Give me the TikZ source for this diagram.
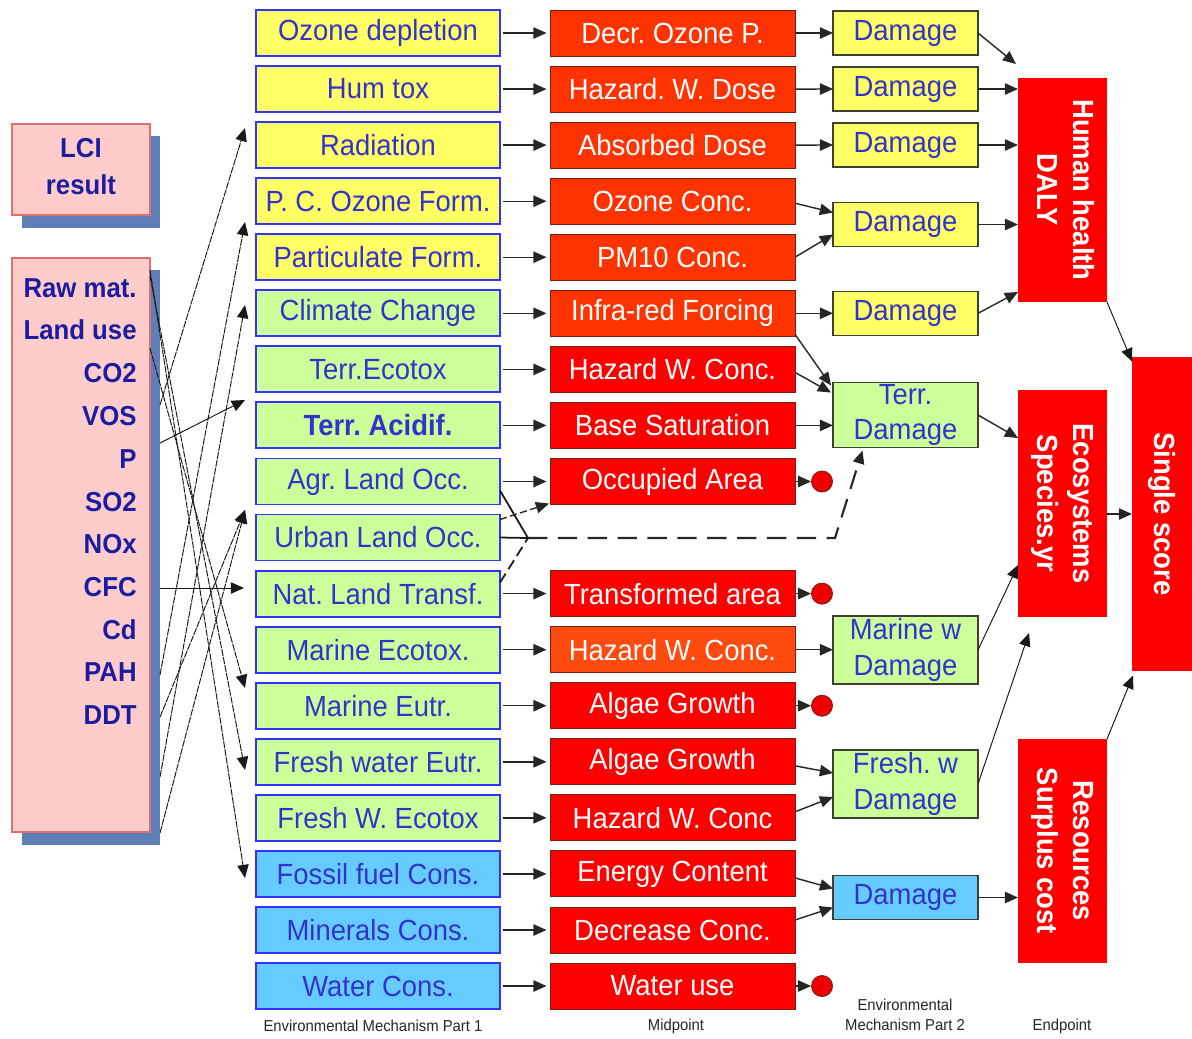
\documentclass[tikz,border=0pt]{standalone}
\usepackage{fontspec}
\usepackage{graphicx}
\setmainfont[FakeStretch=0.94]{Liberation Sans}
\usetikzlibrary{arrows.meta,calc}

\definecolor{yelfill}{HTML}{FFFF66}
\definecolor{grnfill}{HTML}{CCFF99}
\definecolor{blufill}{HTML}{66CCFF}
\definecolor{mechline}{HTML}{3333FF}
\definecolor{mechtxt}{HTML}{3333CC}
\definecolor{midorange}{HTML}{FF3300}
\definecolor{midred}{HTML}{FF0000}
\definecolor{midorangeb}{HTML}{FF4A10}
\definecolor{midline}{HTML}{7A2010}
\definecolor{endred}{HTML}{FF0000}
\definecolor{lcifill}{HTML}{FFCCCC}
\definecolor{lciline}{HTML}{E07070}
\definecolor{shadowblue}{HTML}{5F7FB8}
\definecolor{listtxt}{HTML}{1C1CA0}
\definecolor{dmgline}{HTML}{404030}
\definecolor{dotred}{HTML}{EE0000}

\newcommand{\mainsz}{\frenchspacing\fontsize{16.6}{20.4}\selectfont}
\newcommand{\listsz}{\frenchspacing\fontsize{15.6}{18}\selectfont}
\newcommand{\capsz}{\frenchspacing\fontsize{9}{11.5}\selectfont}

\begin{document}
\frenchspacing
\begin{tikzpicture}[x=0.02cm,y=-0.02cm,
  box/.style={rectangle,inner sep=0pt,outer sep=0pt,align=center},
  mech/.style={box,draw=mechline,line width=1.1pt,minimum width=4.88cm,minimum height=0.92cm,text=mechtxt,font=\mainsz},
  yelbox/.style={mech,fill=yelfill},
  grnbox/.style={mech,fill=grnfill},
  grnbold/.style={grnbox,font=\mainsz\bfseries},
  blubox/.style={mech,fill=blufill},
  mid/.style={box,draw=midline,line width=0.5pt,minimum width=4.9cm,minimum height=0.92cm,text=white,font=\mainsz},
  orgbox/.style={mid,fill=midorange},
  redbox/.style={mid,fill=midred},
  orgboxb/.style={mid,fill=midorangeb},
  dmg/.style={box,draw=dmgline,line width=0.8pt,minimum width=2.9cm,minimum height=0.88cm,text=mechtxt,font=\mainsz},
  dmgyel/.style={dmg,fill=yelfill},
  dmggrn/.style={dmg,fill=grnfill},
  dmgblu/.style={dmg,fill=blufill},
  endbox/.style={box,fill=endred,text=white,font=\mainsz\bfseries,minimum width=1.78cm},
  lcibox/.style={box,fill=lcifill,draw=lciline,line width=0.8pt,minimum width=2.76cm},
  listitem/.style={inner sep=0pt,anchor=east,text=listtxt,font=\listsz\bfseries},
  dot/.style={circle,fill=dotred,draw=midline,line width=0.5pt,minimum size=0.42cm,inner sep=0pt},
  caption/.style={inner sep=0pt,align=center,text=black!85,font=\capsz},
  arr/.style={-{Triangle[length=7.5pt,width=6.5pt]},line width=0.8pt,draw=black!85},
  thinarr/.style={-{Triangle[length=7.5pt,width=6.5pt]},line width=0.55pt,draw=black!90},
  link/.style={line width=1pt,draw=black!90},
  raydash/.style={dash pattern=on 4pt off 0.6pt}
]
\useasboundingbox (0,0) rectangle (1192,1038);

% ---------- inventory boxes with drop shadows ----------
\fill[shadowblue] (22,136) rectangle (160,228);
\node[lcibox,minimum height=1.82cm,text=listtxt,font=\listsz\bfseries] (lci) at (81,169.5)
  {\begin{tabular}{@{}c@{}}LCI\\[3pt]result\end{tabular}};
\fill[shadowblue] (22,270) rectangle (160,845);
\node[lcibox,minimum height=11.48cm] (raw) at (81,545) {};

\node[listitem] (e0)  at (137,288) {Raw mat.};
\node[listitem] (e1)  at (137,330) {Land use};
\node[listitem] (e2)  at (137,373) {CO2};
\node[listitem] (e3)  at (137,416) {VOS};
\node[listitem] (e4)  at (137,459) {P};
\node[listitem] (e5)  at (137,502) {SO2};
\node[listitem] (e6)  at (137,544) {NOx};
\node[listitem] (e7)  at (137,587) {CFC};
\node[listitem] (e8)  at (137,630) {Cd};
\node[listitem] (e9)  at (137,672) {PAH};
\node[listitem] (e10) at (137,715) {DDT};

% ---------- environmental mechanism, part 1 ----------
\node[yelbox]  (c0)  at (378,33)    {Ozone depletion};
\node[yelbox]  (c1)  at (378,89.1)  {Hum tox};
\node[yelbox]  (c2)  at (378,145.1) {Radiation};
\node[yelbox]  (c3)  at (378,201.2) {P. C. Ozone Form.};
\node[yelbox]  (c4)  at (378,257.2) {Particulate Form.};
\node[grnbox]  (c5)  at (378,313.3) {Climate Change};
\node[grnbox]  (c6)  at (378,369.4) {Terr.Ecotox};
\node[grnbold] (c7)  at (378,425.4) {Terr. Acidif.};
\node[grnbox]  (c8)  at (378,481.5) {Agr. Land Occ.};
\node[grnbox]  (c9)  at (378,537.5) {Urban Land Occ.};
\node[grnbox]  (c10) at (378,593.6) {Nat. Land Transf.};
\node[grnbox]  (c11) at (378,649.7) {Marine Ecotox.};
\node[grnbox]  (c12) at (378,705.7) {Marine Eutr.};
\node[grnbox]  (c13) at (378,761.8) {Fresh water Eutr.};
\node[grnbox]  (c14) at (378,817.8) {Fresh W. Ecotox};
\node[blubox]  (c15) at (378,873.9) {Fossil fuel Cons.};
\node[blubox]  (c16) at (378,930)   {Minerals Cons.};
\node[blubox]  (c17) at (378,986)   {Water Cons.};

% ---------- midpoints ----------
\node[orgbox]  (m0)  at (672.5,33)    {Decr. Ozone P.};
\node[orgbox]  (m1)  at (672.5,89.1)  {Hazard. W. Dose};
\node[orgbox]  (m2)  at (672.5,145.1) {Absorbed Dose};
\node[orgbox]  (m3)  at (672.5,201.2) {Ozone Conc.};
\node[orgbox]  (m4)  at (672.5,257.2) {PM10 Conc.};
\node[orgbox]  (m5)  at (672.5,313.3) {Infra-red Forcing};
\node[redbox]  (m6)  at (672.5,369.4) {Hazard W. Conc.};
\node[redbox]  (m7)  at (672.5,425.4) {Base Saturation};
\node[redbox]  (m8)  at (672.5,481.5) {Occupied Area};
\node[redbox]  (m10) at (672.5,593.6) {Transformed area};
\node[orgboxb] (m11) at (672.5,649.7) {Hazard W. Conc.};
\node[redbox]  (m12) at (672.5,705.7) {Algae Growth};
\node[redbox]  (m13) at (672.5,761.8) {Algae Growth};
\node[redbox]  (m14) at (672.5,817.8) {Hazard W. Conc};
\node[redbox]  (m15) at (672.5,873.9) {Energy Content};
\node[redbox]  (m16) at (672.5,930)   {Decrease Conc.};
\node[redbox]  (m17) at (672.5,986)   {Water use};

% end markers of midpoints without damage link
\node[dot] (o8)  at (822,481.5) {};
\node[dot] (o10) at (822,593.6) {};
\node[dot] (o12) at (822,705.7) {};
\node[dot] (o17) at (822,986)   {};

% ---------- environmental mechanism, part 2 ----------
\node[dmgyel] (d1) at (905.5,33)    {Damage};
\node[dmgyel] (d2) at (905.5,89)    {Damage};
\node[dmgyel] (d3) at (905.5,145)   {Damage};
\node[dmgyel] (d4) at (905.5,224.5) {Damage};
\node[dmgyel] (d5) at (905.5,313.3) {Damage};
\node[dmggrn,minimum height=1.3cm]  (dT) at (905.5,415) {Terr.\\Damage};
\node[dmggrn,minimum height=1.36cm] (dM) at (905.5,650) {Marine w\\Damage};
\node[dmggrn,minimum height=1.36cm] (dF) at (905.5,784) {Fresh. w\\Damage};
\node[dmgblu] (dB) at (905.5,897.5) {Damage};

% ---------- endpoints ----------
\node[endbox,minimum height=4.48cm] (hh) at (1062.5,190)
  {\rotatebox{-90}{\begin{tabular}{@{}c@{}}Human health\\DALY\end{tabular}}};
\node[endbox,minimum height=4.54cm] (eco) at (1062.5,503.5)
  {\rotatebox{-90}{\begin{tabular}{@{}c@{}}Ecosystems\\Species.yr\end{tabular}}};
\node[endbox,minimum height=4.48cm] (res) at (1062.5,851)
  {\rotatebox{-90}{\begin{tabular}{@{}c@{}}Resources\\Surplus cost\end{tabular}}};
\node[endbox,minimum width=1.2cm,minimum height=6.3cm] (ss) at (1162,514)
  {\rotatebox{-90}{Single score}};

% ---------- inventory to mechanism links ----------
\coordinate (sA) at (160,405);  \coordinate (tA) at (245,128);
\coordinate (sB) at (160,675);  \coordinate (tB) at (245,222);
\coordinate (sC) at (160,777);  \coordinate (tC) at (245,305);
\coordinate (sD) at (160,443);  \coordinate (tD) at (245,400);
\coordinate (sE) at (160,717);  \coordinate (tE) at (245,510);
\coordinate (sF) at (160,833);
\coordinate (sG) at (160,588);  \coordinate (tG) at (244,588);
\coordinate (sH) at (150,348);  \coordinate (tH) at (245,688);
\coordinate (sI) at (150,276);  \coordinate (tI) at (245,770);
\coordinate (sJ) at (150,270);  \coordinate (tJ) at (245,878);
\draw[thinarr,raydash] (sA) -- (tA);
\draw[thinarr,raydash] (sB) -- (tB);
\draw[thinarr,raydash] (sC) -- (tC);
\draw[thinarr] (sD) -- (tD);
\draw[thinarr,raydash] (sE) -- (tE);
\draw[thinarr,raydash] (sF) -- (tE);
\draw[thinarr] (sG) -- (tG);
\draw[thinarr,raydash] (sH) -- (tH);
\draw[thinarr,raydash] (sI) -- (tI);
\draw[thinarr,raydash] (sJ) -- (tJ);

% ---------- mechanism to midpoint ----------
\foreach \k in {0,1,2,3,4,5,6,7,8,10,11,12,13,14,15,16,17}
  \draw[arr,shorten <=2pt,shorten >=2pt] (c\k.east) -- (m\k.west);

% land use: occupation and transformation feed terrestrial damage
\coordinate (jn) at (528,538);
\coordinate (bend) at (835,538);
\draw[link] ($(c8.east)+(0,9)$) -- (jn);
\draw[link] (c9.east) -- (jn);
\draw[link,dash pattern=on 6pt off 3pt] ($(c10.east)+(0,-11)$) -- (jn);
\draw[arr,line width=1.2pt,dash pattern=on 11pt off 6pt] (jn) -- (bend) -- ($(dT.south)+(-43,3)$);
\draw[arr,dash pattern=on 4pt off 2pt] ($(c9.east)+(0,-18)$) -- ($(m8.south west)+(-1,-1)$);

% ---------- midpoint to damage ----------
\draw[arr] (m0.east) -- (d1.west);
\draw[arr] (m1.east) -- (d2.west);
\draw[arr] (m2.east) -- (d3.west);
\draw[arr] ($(m3.east)+(0,2)$) -- ($(d4.west)+(0,-12)$);
\draw[arr] ($(m4.east)+(0,0)$) -- ($(d4.west)+(0,10)$);
\draw[arr] (m5.east) -- (d5.west);
\draw[arr] ($(m5.east)+(0,21)$) -- ($(dT.north west)+(-2,3)$);
\draw[arr] ($(m6.east)+(0,3)$) -- ($(dT.north west)+(-2,10)$);
\draw[arr] (m7.east) -- (m7.east -| dT.west);
\draw[arr] (m8.east) -- (o8.west);
\draw[arr] (m10.east) -- (o10.west);
\draw[arr] (m11.east) -- (m11.east -| dM.west);
\draw[arr] (m12.east) -- (o12.west);
\draw[arr] ($(m13.east)+(0,4)$) -- ($(dF.west)+(0,-11)$);
\draw[arr] ($(m14.east)+(0,-6)$) -- ($(dF.west)+(0,13)$);
\draw[arr] ($(m15.east)+(0,4)$) -- ($(dB.west)+(0,-9)$);
\draw[arr] ($(m16.east)+(0,-10)$) -- ($(dB.west)+(0,10)$);
\draw[arr] (m17.east) -- (o17.west);

% ---------- damage to endpoint ----------
\coordinate (hhtop) at (1016,64);
\coordinate (ecolow) at (1029,633);
\draw[arr] (d1.east) -- (hhtop);
\draw[arr] (d2.east) -- (d2.east -| hh.west);
\draw[arr] (d3.east) -- (d3.east -| hh.west);
\draw[arr] (d4.east) -- (d4.east -| hh.west);
\draw[arr] (d5.east) -- ($(hh.south west)+(0,-10)$);
\draw[arr] (dT.east) -- ($(eco.north west)+(0,48)$);
\draw[thinarr] (dM.east) -- ($(eco.south west)+(0,-52)$);
\draw[thinarr] (dF.east) -- (ecolow);
\draw[arr] (dB.east) -- (dB.east -| res.west);

% ---------- endpoint to single score ----------
\draw[thinarr] (hh.south east) -- ($(ss.north west)+(0,5)$);
\draw[arr] (eco.east |- ss.west) -- (ss.west);
\draw[thinarr] (res.north east) -- ($(ss.south west)+(1,4)$);

% ---------- column captions ----------
\node[caption] (cap1) at (373,1026) {Environmental Mechanism Part 1};
\node[caption] (cap2) at (676,1026) {Midpoint};
\node[caption] (cap3) at (905,1015) {Environmental\\Mechanism Part 2};
\node[caption] (cap4) at (1062,1026) {Endpoint};
\end{tikzpicture}
\end{document}
